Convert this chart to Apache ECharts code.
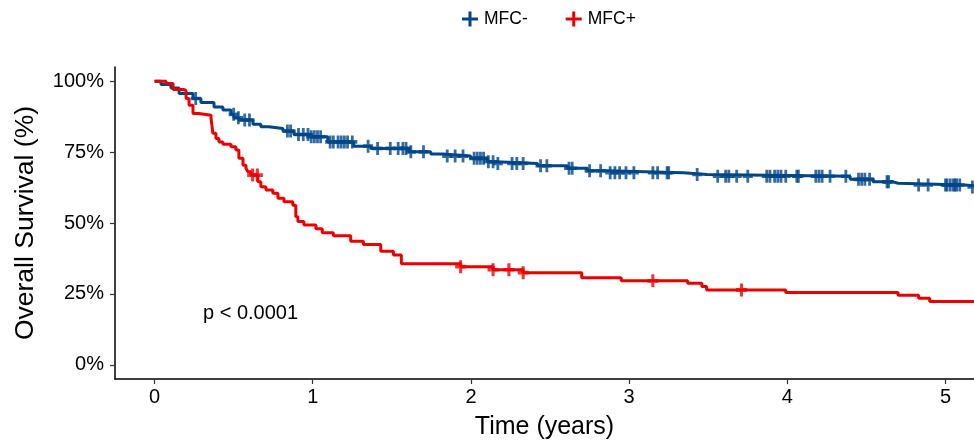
<!DOCTYPE html>
<html>
<head>
<meta charset="utf-8">
<script src="https://cdn.jsdelivr.net/npm/echarts@6/dist/echarts.min.js"></script>
<style>
  html, body { margin: 0; padding: 0; background: #fff; }
  #chart { width: 974px; height: 446px; }
</style>
</head>
<body>
<div id="chart"></div>
<script>
// Kaplan-Meier estimates: event times (years) and survival (%) after each step
const negTimes = [0, 0.041, 0.104, 0.155, 0.243, 0.293, 0.376, 0.432, 0.483, 0.502, 0.533, 0.622, 0.672, 0.723,
  0.811, 0.881, 0.988, 1.095, 1.259, 1.367, 1.607, 1.746, 1.821, 1.998, 2.105, 2.156, 2.421, 2.610, 2.737,
  2.863, 3.343, 3.492, 4.397, 4.542, 4.668, 4.700, 5.12];
const negSurv = [100, 98.8, 97.6, 95.7, 93.9, 92.5, 90.9, 89.8, 88.3, 87.1, 86.3, 84.8, 83.9, 83.3,
  82.4, 81.2, 80.4, 78.6, 77.1, 76.3, 75.1, 74.3, 73.6, 72.8, 71.6, 71.0, 70.2, 69.3, 68.4,
  67.7, 67.1, 66.5, 65.4, 64.5, 64.0, 63.4, 62.7];

const posTimes = [0, 0.073, 0.117, 0.186, 0.199, 0.218, 0.243, 0.281, 0.357, 0.369, 0.388, 0.407, 0.432, 0.483,
  0.514, 0.533, 0.559, 0.578, 0.590, 0.609, 0.653, 0.672, 0.704, 0.748, 0.780, 0.818, 0.874, 0.893, 0.906,
  0.944, 1.02, 1.06, 1.13, 1.24, 1.32, 1.43, 1.51, 1.56, 1.935, 2.14, 2.33, 2.70, 2.95, 3.37, 3.46, 3.49,
  3.99, 4.70, 4.83, 4.90];
const posSurv = [100, 99.2, 97.1, 96.6, 93.9, 91.5, 88.6, 88.0, 86.9, 81.6, 79.8, 78.6, 77.8, 76.9,
  75.7, 72.8, 70.4, 69.3, 68.1, 66.9, 64.5, 62.8, 61.6, 60.5, 58.7, 57.5, 56.3, 52.2, 50.5,
  49.3, 48.0, 46.6, 45.5, 43.6, 42.4, 40.0, 38.7, 35.6, 34.6, 33.5, 32.5, 30.7, 29.6, 28.8, 27.6, 26.4,
  25.5, 24.5, 23.5, 22.3];

// Censoring times (years)
const negCensor = [0.26, 0.50, 0.53, 0.57, 0.60, 0.84, 0.86, 0.91, 0.94, 0.97, 0.99, 1.01, 1.03, 1.05, 1.11,
  1.13, 1.16, 1.18, 1.20, 1.22, 1.25, 1.35, 1.41, 1.49, 1.54, 1.57, 1.59, 1.62, 1.70, 1.85, 1.90, 1.95,
  2.02, 2.04, 2.06, 2.08, 2.11, 2.14, 2.17, 2.26, 2.29, 2.33, 2.44, 2.48, 2.62, 2.64, 2.75, 2.82, 2.88,
  2.91, 2.94, 2.98, 3.03, 3.15, 3.18, 3.24, 3.25, 3.43, 3.56, 3.61, 3.63, 3.68, 3.75, 3.87, 3.89, 3.92,
  3.94, 3.96, 3.99, 4.06, 4.07, 4.18, 4.20, 4.22, 4.27, 4.37, 4.45, 4.47, 4.49, 4.52, 4.63, 4.64, 4.83,
  4.89, 5.00, 5.01, 5.03, 5.05, 5.06, 5.07, 5.09, 5.17];
const posCensor = [0.62, 0.65, 1.935, 2.14, 2.24, 2.33, 3.15, 3.71];

const xTicks = [0, 1, 2, 3, 4, 5];
const yTicks = [0, 25, 50, 75, 100];
const groupNames = ['MFC-', 'MFC+'];
const groupColors = ['#00468B', '#ED0000'];

const X_MIN = -0.25, X_MAX = 5.18;

// survival value in effect at time t (right-continuous step function)
function survAt(times, surv, t) {
  let v = surv[0];
  for (let i = 0; i < times.length; i++) {
    if (times[i] <= t) v = surv[i]; else break;
  }
  return v;
}
function stepData(times, surv) {
  const d = times.map((t, i) => [t, surv[i]]);
  d.push([X_MAX + 0.1, surv[surv.length - 1]]);
  return d;
}
function censorData(times, surv, cens) {
  return cens.map(t => [t, survAt(times, surv, t)]);
}

const plusMark = 'path://M3.6,0H6.4V3.6H10V6.4H6.4V10H3.6V6.4H0V3.6H3.6Z';
const legendPlus = 'path://M6.5,0H9.5V6H16V9H9.5V15H6.5V9H0V6H6.5Z';
const FONT = '"Liberation Sans", Arial, sans-serif';

const chart = echarts.init(document.getElementById('chart'), null, { renderer: 'canvas' });

function lineSeries(name, times, surv, color, z) {
  return {
    name: name, type: 'line', step: 'end', data: stepData(times, surv),
    showSymbol: false, symbol: legendPlus, clip: true, z: z,
    lineStyle: { color: color, width: 3 }, itemStyle: { color: color },
    emphasis: { disabled: true }, animation: false
  };
}
function censorSeries(name, times, surv, cens, color, size, z) {
  return {
    name: name, type: 'scatter', data: censorData(times, surv, cens),
    symbol: plusMark, symbolSize: size, clip: true, z: z,
    itemStyle: { color: color }, emphasis: { disabled: true }, animation: false
  };
}

chart.setOption({
  backgroundColor: '#ffffff',
  animation: false,
  textStyle: { fontFamily: FONT },
  grid: { left: 115, right: 0, top: 67, bottom: 67, containLabel: false },
  legend: {
    top: 10, left: 462, padding: 0,
    data: groupNames.map((n, i) => ({ name: n, icon: legendPlus, itemStyle: { color: groupColors[i] } })),
    itemWidth: 16, itemHeight: 15, itemGap: 38,
    textStyle: { fontSize: 17.5, color: '#000', fontFamily: FONT, padding: [0, 0, 0, 1] }
  },
  xAxis: {
    type: 'value', min: X_MIN, max: X_MAX,
    name: 'Time (years)', nameLocation: 'middle', nameGap: 36,
    nameTextStyle: { fontSize: 25, color: '#000', fontFamily: FONT },
    axisLine: { show: true, onZero: false, lineStyle: { color: '#000', width: 1.5 } },
    axisTick: { show: true, customValues: xTicks, length: 5, lineStyle: { color: '#333', width: 1.2 } },
    axisLabel: { customValues: xTicks, fontSize: 20, color: '#000', margin: 8, fontFamily: FONT },
    splitLine: { show: false }
  },
  yAxis: {
    type: 'value', min: -5, max: 105,
    name: 'Overall Survival (%)', nameLocation: 'middle', nameGap: 76,
    nameTextStyle: { fontSize: 26.5, color: '#000', fontFamily: FONT },
    axisLine: { show: true, onZero: false, lineStyle: { color: '#000', width: 1.5 } },
    axisTick: { show: true, customValues: yTicks, length: 5, lineStyle: { color: '#333', width: 1.2 } },
    axisLabel: { customValues: yTicks, fontSize: 20, color: '#000', margin: 11, fontFamily: FONT,
      formatter: v => v + '%' },
    splitLine: { show: false }
  },
  graphic: [{
    type: 'text', left: 203, top: 303,
    style: { text: 'p < 0.0001', fontSize: 20, fill: '#000', fontFamily: FONT }
  }],
  series: [
    lineSeries(groupNames[0], negTimes, negSurv, groupColors[0], 2),
    censorSeries('MFC- censored', negTimes, negSurv, negCensor, groupColors[0], [10, 13], 3),
    lineSeries(groupNames[1], posTimes, posSurv, groupColors[1], 4),
    censorSeries('MFC+ censored', posTimes, posSurv, posCensor, groupColors[1], [11, 13], 5)
  ]
});
</script>
</body>
</html>
